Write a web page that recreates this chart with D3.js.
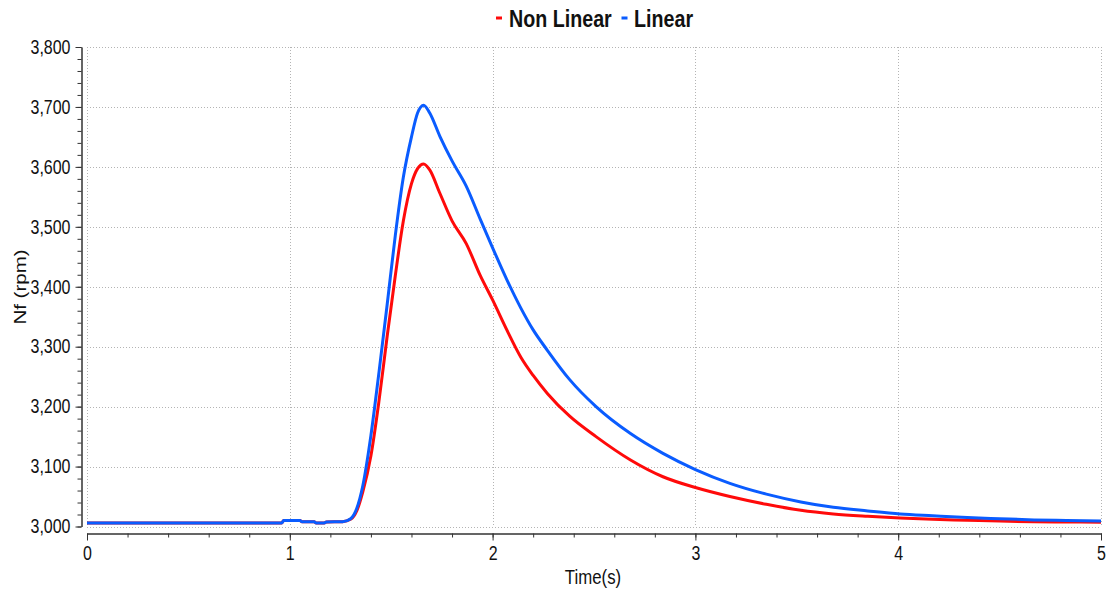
<!DOCTYPE html>
<html>
<head>
<meta charset="utf-8">
<script src="https://cdn.jsdelivr.net/npm/d3@7"></script>
<style>
  body { margin: 0; background: #fff; }
  text { font-family: "Liberation Sans", Arial, sans-serif; fill: #111; }
</style>
</head>
<body>
<script>
//chart data
var time = [0, 0.96, 0.97, 1.05, 1.06, 1.12, 1.13, 1.17, 1.18, 1.26, 1.30, 1.33, 1.36, 1.40, 1.44,
  1.48, 1.52, 1.56, 1.60, 1.63, 1.66, 1.69, 1.74, 1.80, 1.87, 1.94, 2.00, 2.07, 2.14, 2.20, 2.27,
  2.38, 2.51, 2.68, 2.84, 3.00, 3.17, 3.35, 3.52, 3.68, 3.85, 4.01, 4.17, 4.34, 4.50, 4.67, 4.83, 5.00];

var linearNf = [3006, 3006, 3010, 3010, 3008, 3008, 3006, 3006, 3007.5, 3008, 3013, 3030, 3068, 3152, 3258,
  3370, 3485, 3583, 3650, 3690, 3703, 3690, 3651, 3610, 3568, 3512, 3465, 3412, 3364, 3328, 3294,
  3245, 3200, 3155, 3122, 3095, 3072, 3054, 3041, 3032, 3026, 3021, 3018, 3015, 3013, 3011, 3010, 3009];

var nonLinearNf = [3006, 3006, 3010, 3010, 3008, 3008, 3006, 3006, 3007.5, 3008, 3012, 3026, 3058, 3118, 3210,
  3317, 3418, 3510, 3572, 3597, 3605, 3595, 3556, 3510, 3472, 3418, 3378, 3328, 3282, 3252, 3222,
  3184, 3150, 3111, 3083, 3065, 3050, 3037, 3027, 3021, 3017, 3014, 3012, 3010.5, 3009, 3008, 3007.5, 3007];

var series = [
  { name: 'Non Linear', values: nonLinearNf, color: '#ff0a0a' },
  { name: 'Linear', values: linearNf, color: '#0a5cff' }
];

var xTicks = [0, 1, 2, 3, 4, 5];
var yTicks = [3000, 3100, 3200, 3300, 3400, 3500, 3600, 3700, 3800];

var width = 1107, height = 592;
//the reference text looks squeezed sideways
var squeeze = 0.82;

var x = d3.scaleLinear().domain([0, 5]).range([87, 1101]);
var y = d3.scaleLinear().domain([3000, 3800]).range([526.5, 47]);

var svg = d3.select('body').append('svg')
  .attr('width', width)
  .attr('height', height);

//dotted grid
var grid = svg.append('g').attr('stroke', '#b4b4b4').attr('stroke-dasharray', '1,2');
grid.selectAll('.h').data(yTicks).enter().append('line')
  .attr('x1', x(0)).attr('x2', x(5))
  .attr('y1', function(d) { return Math.round(y(d)) + 0.5; })
  .attr('y2', function(d) { return Math.round(y(d)) + 0.5; });
grid.selectAll('.v').data(xTicks).enter().append('line')
  .attr('y1', y(3800)).attr('y2', y(3000))
  .attr('x1', function(d) { return Math.round(x(d)) + 0.5; })
  .attr('x2', function(d) { return Math.round(x(d)) + 0.5; });

function styleAxis(g) {
  g.selectAll('line, path').attr('stroke', '#333');
  g.selectAll('text')
    .style('font-size', '19.5px')
    .attr('fill', '#111')
    .attr('x', function() { return +d3.select(this).attr('x') / squeeze; })
    .attr('transform', 'scale(' + squeeze + ',1)');
}

//y axis, offset to the left of the plot
var minorY = d3.range(3000, 3801, 20);
svg.append('g')
  .attr('transform', 'translate(81.5,0)')
  .call(d3.axisLeft(y).tickValues(minorY).tickSize(4).tickSizeOuter(0).tickFormat(''))
  .call(function(g) { g.selectAll('line, path').attr('stroke', '#333'); });
svg.append('g')
  .attr('transform', 'translate(81.5,0)')
  .call(d3.axisLeft(y).tickValues(yTicks).tickSize(6).tickSizeOuter(0).tickPadding(5).tickFormat(d3.format(',')))
  .call(styleAxis);

//x axis, offset below the plot
var minorX = d3.range(0, 5.01, 0.2);
svg.append('g')
  .attr('transform', 'translate(0,533.5)')
  .call(d3.axisBottom(x).tickValues(minorX).tickSize(4).tickSizeOuter(0).tickFormat(''))
  .call(function(g) { g.selectAll('line, path').attr('stroke', '#333'); });
svg.append('g')
  .attr('transform', 'translate(0,533.5)')
  .call(d3.axisBottom(x).tickValues(xTicks).tickSize(7).tickSizeOuter(0).tickPadding(6).tickFormat(d3.format('d')))
  .call(styleAxis);

//curves
var line = d3.line()
  .x(function(d, i) { return x(time[i]); })
  .y(function(d) { return y(d); })
  .curve(d3.curveMonotoneX);

svg.selectAll('.series').data(series).enter().append('path')
  .attr('d', function(d) { return line(d.values); })
  .attr('fill', 'none')
  .attr('stroke', function(d) { return d.color; })
  .attr('stroke-width', 3)
  .attr('stroke-linejoin', 'round');

//axis titles
svg.append('text')
  .attr('transform', 'translate(593,584) scale(' + squeeze + ',1)')
  .attr('text-anchor', 'middle')
  .style('font-size', '20.5px')
  .text('Time(s)');

svg.append('text')
  .attr('transform', 'translate(26,287) scale(' + squeeze + ',1) rotate(-90)')
  .attr('text-anchor', 'middle')
  .style('font-size', '20.5px')
  .text('Nf (rpm)');

//legend
var legendX = [496, 621.5];
var legendTextX = [509, 634];
var legend = svg.selectAll('.legend').data(series).enter().append('g');
legend.append('rect')
  .attr('x', function(d, i) { return legendX[i]; })
  .attr('y', 16.5)
  .attr('width', 6).attr('height', 3)
  .attr('fill', function(d) { return d.color; });
legend.append('text')
  .attr('transform', function(d, i) { return 'translate(' + legendTextX[i] + ',27) scale(' + squeeze + ',1)'; })
  .style('font-size', '24px')
  .style('font-weight', 'bold')
  .text(function(d) { return d.name; });
</script>
</body>
</html>
